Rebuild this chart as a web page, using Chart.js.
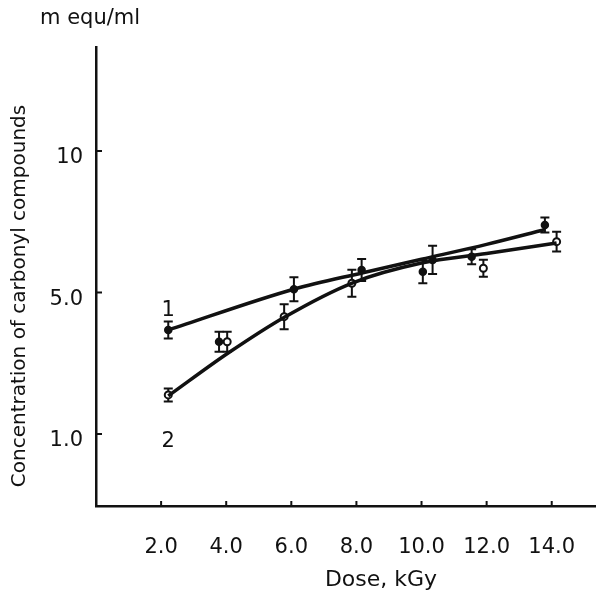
<!DOCTYPE html>
<html>
<head>
<meta charset="utf-8">
<script src="https://cdn.jsdelivr.net/npm/chart.js@4.4.1/dist/chart.umd.min.js"></script>
<style>
  html, body { margin: 0; padding: 0; background: #fff; }
  #wrap { width: 596px; height: 599px; }
</style>
</head>
<body>
<div id="wrap"><canvas id="chart" width="596" height="599"></canvas></div>
<script>
// x axis marks
const doseTicks = [2, 4, 6, 8, 10, 12, 14];
// y axis: three evenly spaced marks that carry these labels
const yTickPos = [1, 2, 3];
const yTickLabels = ['1.0', '5.0', '10'];

// curve 1 - measured points (value in axis units) and error half-width
const s1Dose = [2.22, 6.08, 8.16, 10.34, 11.54, 13.79];
const s1Val  = [1.735, 2.023, 2.159, 2.23, 2.253, 2.477];
const s1Err  = [0.06, 0.085, 0.078, 0.1, 0.053, 0.053];

// curve 2 - measured points
const s2Dose = [2.22, 5.78, 7.86, 14.15];
const s2Val  = [1.276, 1.829, 2.065, 2.359];
const s2Err  = [0.046, 0.088, 0.095, 0.07];

// single points off the curves
const xfDose = [3.78, 10.04];
const xfVal  = [1.652, 2.147];
const xfErr  = [0.07, 0.081];
const xoDose = [4.03, 11.9];
const xoVal  = [1.652, 2.171];
const xoErr  = [0.07, 0.06];

// fitted curves
const fit1Dose = [2.22, 6.1, 8.2, 10.0, 12.0, 13.8];
const fit1Val  = [1.735, 2.025, 2.14, 2.235, 2.34, 2.445];
const fit2Dose = [2.22, 4.06, 5.8, 7.87, 10.0, 12.0, 14.15];
const fit2Val  = [1.269, 1.572, 1.827, 2.067, 2.208, 2.275, 2.35];

// curve numbers
const curveNames = ['1', '2'];
const curveNameDose = [2.22, 2.22];
const curveNameVal = [1.87, 0.95];

const pts = (xs, ys) => xs.map((x, i) => ({ x: x, y: ys[i] }));
const INK = '#111';
const FONT = 'DejaVu Sans';

const errorSets = [
    [s1Dose, s1Val, s1Err],
    [s2Dose, s2Val, s2Err],
    [xfDose, xfVal, xfErr],
    [xoDose, xoVal, xoErr]
];

const extras = {
    id: 'extras',
    beforeDatasetsDraw(chart) {
        const ctx = chart.ctx;
        const x = chart.scales.x, y = chart.scales.y;
        ctx.save();
        ctx.strokeStyle = INK;
        ctx.lineWidth = 2;
        errorSets.forEach(([ds, vs, es]) => {
            ds.forEach((d, i) => {
                const px = x.getPixelForValue(d);
                const top = y.getPixelForValue(vs[i] + es[i]);
                const bot = y.getPixelForValue(vs[i] - es[i]);
                ctx.beginPath();
                ctx.moveTo(px, top); ctx.lineTo(px, bot);
                ctx.moveTo(px - 4.5, top); ctx.lineTo(px + 4.5, top);
                ctx.moveTo(px - 4.5, bot); ctx.lineTo(px + 4.5, bot);
                ctx.stroke();
            });
        });
        ctx.restore();
    },
    afterDraw(chart) {
        const ctx = chart.ctx;
        const x = chart.scales.x, y = chart.scales.y;
        const area = chart.chartArea;
        ctx.save();
        ctx.strokeStyle = INK;
        ctx.fillStyle = INK;
        ctx.lineWidth = 2;
        // inside tick marks
        x.ticks.forEach(t => {
            const px = x.getPixelForValue(t.value);
            ctx.beginPath();
            ctx.moveTo(px, area.bottom); ctx.lineTo(px, area.bottom - 5);
            ctx.stroke();
        });
        y.ticks.forEach(t => {
            const py = y.getPixelForValue(t.value);
            ctx.beginPath();
            ctx.moveTo(area.left, py); ctx.lineTo(area.left + 6, py);
            ctx.stroke();
        });

        // curve numbers
        ctx.font = '21px "' + FONT + '"';
        ctx.textAlign = 'center';
        ctx.textBaseline = 'middle';
        curveNames.forEach((n, i) => {
            ctx.fillText(n, x.getPixelForValue(curveNameDose[i]), y.getPixelForValue(curveNameVal[i]));
        });

        // unit over the y axis
        ctx.textAlign = 'left';
        ctx.fillText('m equ/ml', 40, 19);

        // axis titles
        ctx.textAlign = 'center';
        ctx.font = '22px "' + FONT + '"';
        ctx.fillText('Dose, kGy', 381, 580);

        ctx.font = '20px "' + FONT + '"';
        ctx.translate(20, 296);
        ctx.rotate(-Math.PI / 2);
        ctx.fillText('Concentration of carbonyl compounds', 0, 0);
        ctx.restore();
    }
};

const lineStyle = { type: 'line', borderColor: INK, borderWidth: 3.5, cubicInterpolationMode: 'monotone', pointRadius: 0, fill: false };

new Chart(document.getElementById('chart'), {
    type: 'scatter',
    data: {
        datasets: [
            Object.assign({ data: pts(fit1Dose, fit1Val) }, lineStyle),
            Object.assign({ data: pts(fit2Dose, fit2Val) }, lineStyle),
            { data: pts(s1Dose, s1Val), pointRadius: 3.5, backgroundColor: INK, borderColor: INK, borderWidth: 1.5 },
            { data: pts(s2Dose, s2Val), pointRadius: 3.5, backgroundColor: '#fff', borderColor: INK, borderWidth: 2 },
            { data: pts(xfDose, xfVal), pointRadius: 3.5, backgroundColor: INK, borderColor: INK, borderWidth: 1.5 },
            { data: pts(xoDose, xoVal), pointRadius: 3.5, backgroundColor: '#fff', borderColor: INK, borderWidth: 2 }
        ]
    },
    options: {
        responsive: false,
        animation: false,
        layout: { autoPadding: false, padding: { top: 47, left: 0, right: 0, bottom: 0 } },
        plugins: { legend: { display: false }, tooltip: { enabled: false } },
        scales: {
            x: {
                type: 'linear',
                min: 0,
                max: 15.36,
                afterBuildTicks: s => { s.ticks = doseTicks.map(v => ({ value: v })); },
                afterFit: s => { s.height = 93; s.paddingLeft = 0; s.paddingRight = 0; },
                ticks: {
                    callback: v => Number(v).toFixed(1),
                    font: { family: FONT, size: 21 },
                    color: INK,
                    padding: 29,
                    maxRotation: 0,
                    autoSkip: false
                },
                grid: { display: false, drawTicks: false },
                border: { display: true, color: INK, width: 2.5 }
            },
            y: {
                type: 'linear',
                min: 0.491,
                max: 3.735,
                afterBuildTicks: s => { s.ticks = yTickPos.map(v => ({ value: v })); },
                afterFit: s => { s.width = 96; s.paddingTop = 0; s.paddingBottom = 0; },
                ticks: {
                    callback: v => yTickLabels[yTickPos.indexOf(v)],
                    font: { family: FONT, size: 21 },
                    color: INK,
                    padding: 13,
                    labelOffset: 7
                },
                grid: { display: false, drawTicks: false },
                border: { display: true, color: INK, width: 2.5 }
            }
        }
    },
    plugins: [extras]
});
</script>
</body>
</html>
